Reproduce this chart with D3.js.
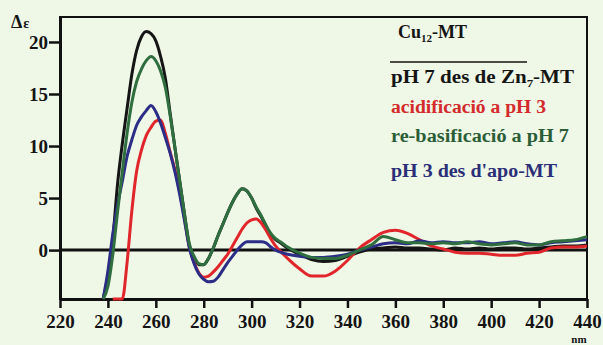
<!DOCTYPE html>
<html>
<head>
<meta charset="utf-8">
<script src="https://d3js.org/d3.v7.min.js"></script>
<style>
  body { margin: 0; background: #eff7e7; }
  svg { display: block; }
  text { font-family: "Liberation Serif", "Times New Roman", serif; font-weight: bold; }
</style>
</head>
<body>
<div id="my_dataviz"></div>
<script>
// wavelengths (nm) shared by all four spectra
var nm = [238,240,242,244,246,248,250,252,254,256,258,260,262,264,266,268,270,272,274,276,278,280,282,284,286,288,290,292,294,296,298,300,302,304,306,308,310,312,315,320,325,330,335,340,345,350,355,360,365,370,375,380,385,390,395,400,405,410,415,420,425,430,435,440];

// pH 7 des de Zn7-MT (black)
var zn7 = [-6,-2.5,1.0,6.3,10.2,13.6,16.9,19.2,20.5,21.0,20.8,20.1,18.6,16.5,13.1,9.8,6.6,3.4,0.4,-0.8,-1.4,-1.4,-0.8,0.2,1.4,2.5,3.6,4.6,5.4,5.9,5.7,5.0,4.0,3.2,2.3,1.5,1.0,0.7,0.2,-0.4,-0.9,-1.1,-1.0,-0.6,-0.2,0.1,0.2,0.3,0.2,0.2,0.1,0.0,0.2,0.1,0.2,0.1,0.2,0.2,0.1,0.2,0.3,0.4,0.4,0.5];

// acidificació a pH 3 (red)
var acid = [null,null,-6,-6,-5,-1.2,3.8,7.6,9.6,11.0,11.8,12.4,12.5,11.2,9.4,7.7,5.6,3.0,0.3,-1.2,-2.2,-2.6,-2.5,-2.1,-1.6,-1.0,-0.4,0.4,1.2,2.0,2.6,2.9,3.0,2.6,1.9,1.1,0.4,-0.1,-0.8,-1.8,-2.5,-2.5,-2.0,-1.0,0.2,1.0,1.7,1.9,1.6,1.0,0.4,0.1,-0.2,-0.3,-0.3,-0.4,-0.5,-0.5,-0.3,-0.2,0.2,0.3,0.3,0.4];

// re-basificació a pH 7 (green)
var rebas = [-6,-3.5,-0.5,3.6,7.5,11.2,14.2,16.2,17.4,18.2,18.6,18.2,17.2,15.6,12.9,9.8,6.6,3.4,0.6,-0.6,-1.3,-1.4,-0.8,0.2,1.4,2.5,3.6,4.6,5.4,5.9,5.7,5.0,4.1,3.3,2.4,1.6,1.1,0.8,0.3,-0.3,-0.7,-0.8,-0.8,-0.5,0.0,0.5,1.3,1.0,0.7,0.7,0.6,0.7,0.6,0.8,0.6,0.5,0.6,0.7,0.5,0.5,0.8,0.9,1.0,1.3];

// pH 3 des d'apo-MT (blue)
var apo = [-6,-2.0,1.5,4.3,6.6,9.0,10.6,12.0,12.8,13.4,13.9,13.3,12.2,10.8,9.3,7.5,5.3,2.8,0.2,-1.3,-2.3,-2.8,-3.05,-3.0,-2.6,-1.9,-1.2,-0.6,0.0,0.5,0.8,0.8,0.8,0.8,0.7,0.3,0.0,-0.2,-0.4,-0.6,-0.7,-0.7,-0.6,-0.4,0.0,0.3,0.6,0.7,0.6,0.9,0.7,0.8,0.7,0.7,0.8,0.6,0.7,0.8,0.6,0.5,0.7,0.8,0.9,1.0];

var xTicks = [220,240,260,280,300,320,340,360,380,400,420,440];
var yTicks = [0,5,10,15,20];

var series = [
  {values: zn7,   color: "#151515"},
  {values: acid,  color: "#e1262b"},
  {values: apo,   color: "#2b2d86"},
  {values: rebas, color: "#2f6e3e"}
];

var legendLines = [
  {text: "pH 7 des de Zn", sub: "7", tail: "-MT", color: "#151515", y: 83, w: 183},
  {text: "acidificació a pH 3", color: "#d42a2c", y: 113, w: 155},
  {text: "re-basificació a pH 7", color: "#2b5e37", y: 142, w: 178},
  {text: "pH 3 des d'apo-MT", color: "#2b2f78", y: 177, w: 166}
];

var width = 603, height = 345;
var svg = d3.select("#my_dataviz")
  .append("svg")
  .attr("width", width)
  .attr("height", height);

var x = d3.scaleLinear().domain([220, 440]).range([60, 587]);
var y = d3.scaleLinear().domain([-4.7, 22.4]).range([299, 17]).clamp(true);

// frame (top and right)
svg.append("rect")
  .attr("x", 60).attr("y", 17)
  .attr("width", 527).attr("height", 282)
  .attr("fill", "none")
  .attr("stroke", "#111")
  .attr("stroke-width", 2);

// zero line
svg.append("line")
  .attr("x1", x(220)).attr("x2", x(440))
  .attr("y1", y(0)).attr("y2", y(0))
  .attr("stroke", "#111")
  .attr("stroke-width", 3);

// axes (drawn under the curves)
var xAxis = svg.append("g")
  .attr("transform", "translate(0,299)")
  .call(d3.axisBottom(x).tickValues(xTicks).tickSize(9).tickSizeOuter(0));
xAxis.selectAll("text").attr("dy", null).attr("y", 29);

var yAxis = svg.append("g")
  .attr("transform", "translate(60,0)")
  .call(d3.axisLeft(y).tickValues(yTicks).tickSize(11).tickSizeOuter(0).tickPadding(1));

[xAxis, yAxis].forEach(function(g) {
  g.select(".domain").attr("stroke", "#111").attr("stroke-width", 3);
  g.selectAll(".tick line").attr("stroke", "#111").attr("stroke-width", 2.5);
  g.selectAll("text")
    .attr("fill", "#141414")
    .style("font-family", "'Liberation Serif', serif")
    .style("font-weight", "bold")
    .style("font-size", "19px");
});
yAxis.selectAll("text").attr("dy", "0.35em");

// curves
var line = d3.line()
  .defined(function(d) { return d.v != null; })
  .x(function(d) { return x(d.nm); })
  .y(function(d) { return y(d.v); })
  .curve(d3.curveMonotoneX);

series.forEach(function(s) {
  var pts = nm.map(function(n, i) { return {nm: n, v: s.values[i]}; });
  svg.append("path")
    .datum(pts)
    .attr("d", line)
    .attr("fill", "none")
    .attr("stroke", s.color)
    .attr("stroke-width", 3)
    .attr("stroke-linejoin", "round");
});

// y label
var yl = svg.append("text").attr("x", 11).attr("y", 28).attr("fill", "#141414");
yl.append("tspan").style("font-size", "18px").text("Δ");
yl.append("tspan").style("font-size", "14px").attr("dx", 1).text("ε");

// x unit
svg.append("text")
  .attr("x", 579).attr("y", 343)
  .attr("text-anchor", "middle")
  .style("font-size", "11px")
  .attr("fill", "#141414")
  .text("nm");

// legend title
var title = svg.append("text").attr("x", 398).attr("y", 38).attr("fill", "#141414").style("font-size", "18px");
title.append("tspan").text("Cu");
title.append("tspan").attr("dy", 4).style("font-size", "11px").text("12");
title.append("tspan").attr("dy", -4).text("-MT");

svg.append("line")
  .attr("x1", 390).attr("x2", 527)
  .attr("y1", 62).attr("y2", 62)
  .attr("stroke", "#141414")
  .attr("stroke-width", 1.5);

legendLines.forEach(function(l) {
  var t = svg.append("text")
    .attr("x", 391).attr("y", l.y)
    .attr("fill", l.color)
    .style("font-size", "18px");
  t.append("tspan").text(l.text);
  if (l.sub) {
    t.append("tspan").attr("dy", 4).style("font-size", "11px").text(l.sub);
    t.append("tspan").attr("dy", -4).text(l.tail);
  }
  t.attr("textLength", l.w).attr("lengthAdjust", "spacingAndGlyphs");
});
</script>
</body>
</html>
